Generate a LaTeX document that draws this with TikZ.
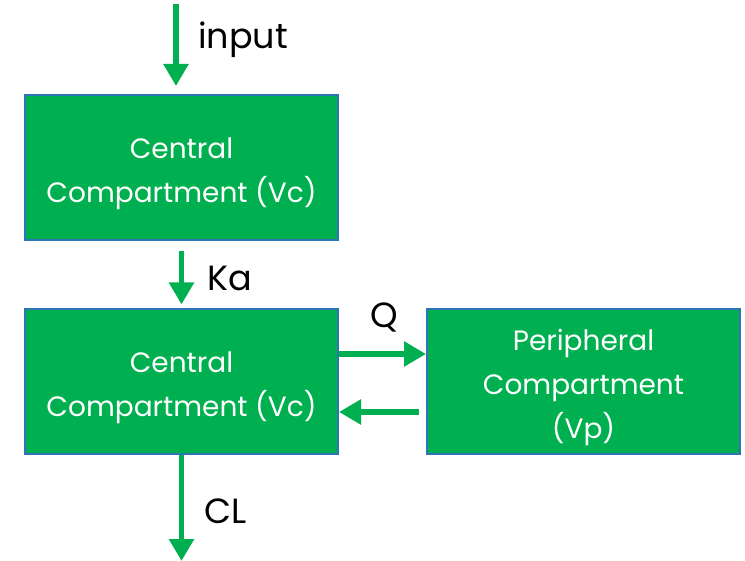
\documentclass[tikz,border=0pt]{standalone}
\usepackage{fontspec}
\setmainfont{Poppins}
\usetikzlibrary{arrows.meta,calc}
\definecolor{boxgreen}{HTML}{00B050}
\definecolor{boxblue}{HTML}{2E75B6}
\newcommand{\topstrut}{\rule{0pt}{33pt}}
\tikzset{
  comp/.style={draw=boxblue, line width=2pt, fill=boxgreen, text=white,
    minimum width=313pt, minimum height=145pt, inner sep=0pt, align=center,
    font=\fontsize{28}{44}\selectfont},
  flow/.style={draw=boxgreen, line width=5.5pt,
    -{Triangle[width=24pt,length=22pt]}},
  lbl/.style={text=black, inner sep=0pt, font=\fontsize{35}{40}\selectfont}
}
\begin{document}
\begin{tikzpicture}[x=1pt,y=-1pt]
\useasboundingbox (0,0) rectangle (745,561);
\node[comp] (c1) at (181.5,167.5) {\topstrut Central\\Compartment (Vc)};
\node[comp] (c2) at (181.5,382) {\topstrut Central\\Compartment (Vc)};
\node[comp] (p) at (583.5,382) {\topstrut Peripheral\\Compartment\\(Vp)};
\coordinate (inTop) at (176,4);
\coordinate (clEnd) at (181.5,561);
\draw[flow, shorten >=8pt] (inTop) -- (inTop |- c1.north);
\draw[flow, shorten <=10pt, shorten >=4pt] (c1.south) -- (c2.north);
\draw[flow] ($(c2.east)+(0,-28)$) -- ($(p.west)+(0,-28)$);
\draw[flow, shorten <=7pt] ($(p.west)+(0,30)$) -- ($(c2.east)+(0,30)$);
\draw[flow] (c2.south) -- (clEnd);
\node[lbl, anchor=west] (linput) at (198,40) {input};
\node[lbl, anchor=west] (lka) at (207,278) {Ka};
\node[lbl] (lq) at (384,317) {Q};
\node[lbl, anchor=west] (lcl) at (204,511) {CL};
\end{tikzpicture}
\end{document}
